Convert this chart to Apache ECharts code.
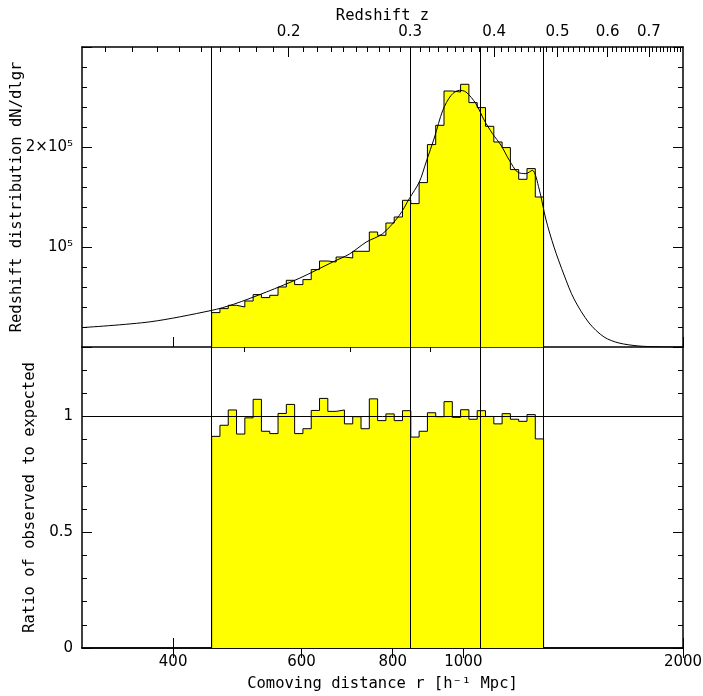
<!DOCTYPE html>
<html><head><meta charset="utf-8">
<script src="https://cdn.jsdelivr.net/npm/echarts@6/dist/echarts.min.js"></script>
<style>html,body{margin:0;padding:0;background:#fff}#c{width:703px;height:696px}</style>
</head><body><div id="c"></div>
<script>
// ---------------- data ----------------
const distanceRange = [300, 2000];                 // h^-1 Mpc, log axis
const distanceTickLabels = [400, 600, 800, 1000, 2000];
const distanceMinorTicks = [500, 700, 900];
const redshiftTickLabels = [0.2, 0.3, 0.4, 0.5, 0.6, 0.7];
const redshiftMinorStep = 0.01;
const histFirstEdge = 451.7;                       // h^-1 Mpc
const histLastEdge = 1288;
const histBinCount = 40;
const observedCounts = [34.4,38.4,41.7,40.0,46.0,52.4,49.4,51.7,60.0,66.7,
  62.4,67.4,77.4,86.0,85.0,90.0,89.0,95.7,95.7,115.0,
  111.7,124.0,130.0,146.7,143.4,164.4,202.4,221.7,256.0,255.0,
  262.7,244.4,239.4,220.7,205.0,199.4,177.4,167.7,178.4,150.0].map(v => v * 1000);
const ratioObsExp = [0.914,0.962,1.028,0.924,0.994,1.074,0.936,0.926,1.013,1.052,
  0.926,0.947,1.026,1.078,1.022,1.028,0.968,0.999,0.947,1.076,
  0.982,1.011,0.982,1.025,0.911,0.936,1.016,0.999,1.064,0.996,
  1.029,0.988,1.025,1.000,0.968,1.012,0.988,0.979,1.008,0.903];
const modelDistance = [300,372,451,484,537,597,662,698,736,775,817,843,870,889,913,937,962,987,1008,
  1040,1068,1096,1126,1156,1186,1218,1243,1270,1297,1331,1374,1418,1487,1559,1634,1740,1854,2000];
const modelCounts = [19.4,25.2,36.5,42.7,55,69,85,93,105,113.3,131.7,148.4,165,185,210,236.7,251.7,256.7,255,
  243.4,226.7,213.4,201.7,186.7,175,173.4,176.7,158,128,100,72,48,24,10,4,1,0.2,0].map(v => v * 1000);
const sampleCuts = [451.7, 846, 1053, 1288];      // h^-1 Mpc
const yTopMax = 3e5, yTopStep = 1e5;
const ratioMax = 1.3, ratioLabels = [0, 0.5, 1];

// --------------- helpers ---------------
const lg = Math.log10;
const OMEGA_M = 0.25, HUBBLE_DIST = 2997.9;
function comovingDistance(z) {          // flat LCDM, h^-1 Mpc (axis tick placement)
  const n = 400, h = z / n; let s = 0;
  for (let i = 0; i <= n; i++) {
    const zz = i * h, f = 1 / Math.sqrt(OMEGA_M * Math.pow(1 + zz, 3) + 1 - OMEGA_M);
    s += f * (i === 0 || i === n ? 1 : (i % 2 ? 4 : 2));
  }
  return HUBBLE_DIST * s * h / 3;
}
const zMajorPos = redshiftTickLabels.map(z => lg(comovingDistance(z)));
const zMinorPos = [];
for (let k = 11; k <= 100; k++) { if (k % 10) zMinorPos.push(lg(comovingDistance(k * redshiftMinorStep))); }

const edges = [];
for (let i = 0; i <= histBinCount; i++) edges.push(Math.pow(10, lg(histFirstEdge) + i * (lg(histLastEdge) - lg(histFirstEdge)) / histBinCount));
function stepData(vals) {
  const d = [[edges[0], 0]];
  vals.forEach((v, i) => d.push([edges[i], v]));
  d.push([edges[vals.length], vals[vals.length - 1]]);
  d.push([edges[vals.length], 0]);
  return d;
}

const FONT = 'DejaVu Sans';
const TITLEFONT = 'DejaVu Sans Mono';
const TITLESIZE = 15.5;
const lineS = { show: true, lineStyle: { color: '#000', width: 1.5 } };
const lgMin = lg(distanceRange[0]), lgMax = lg(distanceRange[1]);

function tickAxis(grid, pos, major, minorVals, opts) {
  return Object.assign({
    gridIndex: grid, type: 'value', position: pos, min: lgMin, max: lgMax,
    axisLine: major ? lineS : { show: false },
    axisTick: { show: true, inside: true, length: major ? 10 : 5, customValues: minorVals, lineStyle: { color: '#000', width: 1 } },
    axisLabel: { show: false }, splitLine: { show: false }
  }, opts || {});
}

const xAxes = [
  // grid 0
  { gridIndex: 0, type: 'log', min: distanceRange[0], max: distanceRange[1], show: false, logBase: 10 },
  tickAxis(0, 'bottom', true, distanceTickLabels.map(lg)),
  tickAxis(0, 'bottom', false, distanceMinorTicks.map(lg)),
  tickAxis(0, 'top', true, zMajorPos, {
    axisLabel: { show: true, customValues: zMajorPos, margin: 7, fontFamily: FONT, fontSize: 15, color: '#000',
      formatter: v => { let b = 0; zMajorPos.forEach((p, i) => { if (Math.abs(p - v) < Math.abs(zMajorPos[b] - v)) b = i; }); return String(redshiftTickLabels[b]); } },
    name: 'Redshift z', nameLocation: 'middle', nameGap: 23,
    nameTextStyle: { fontFamily: TITLEFONT, fontSize: TITLESIZE, color: '#000' }
  }),
  tickAxis(0, 'top', false, zMinorPos),
  // grid 1
  { gridIndex: 1, type: 'log', min: distanceRange[0], max: distanceRange[1], show: false, logBase: 10 },
  tickAxis(1, 'bottom', true, distanceTickLabels.map(lg), {
    axisLabel: { show: true, customValues: distanceTickLabels.map(lg), margin: 7, fontFamily: FONT, fontSize: 15, color: '#000',
      formatter: v => String(Math.round(Math.pow(10, v))) },
    name: 'Comoving distance r [h⁻¹ Mpc]', nameLocation: 'middle', nameGap: 28,
    nameTextStyle: { fontFamily: TITLEFONT, fontSize: TITLESIZE, color: '#000' }
  }),
  tickAxis(1, 'bottom', false, distanceMinorTicks.map(lg)),
  tickAxis(1, 'top', true, distanceTickLabels.map(lg)),
  tickAxis(1, 'top', false, distanceMinorTicks.map(lg))
];

function topY(pos, withLabels) {
  return {
    gridIndex: 0, type: 'value', position: pos, min: 0, max: yTopMax, interval: yTopStep,
    axisLine: lineS,
    axisTick: { show: true, inside: true, length: 10, lineStyle: { color: '#000' } },
    minorTick: { show: true, splitNumber: 5, length: 5, lineStyle: { color: '#000' } },
    splitLine: { show: false }, minorSplitLine: { show: false },
    axisLabel: withLabels ? { show: true, margin: 9, fontFamily: FONT, fontSize: 15, color: '#000',
      formatter: v => v === 1e5 ? '10⁵' : (v === 2e5 ? '2×10⁵' : '') } : { show: false },
    name: withLabels ? 'Redshift distribution dN/dlgr' : '', nameLocation: 'middle', nameGap: 57,
    nameMoveOverlap: false,
    nameTextStyle: { fontFamily: TITLEFONT, fontSize: TITLESIZE, color: '#000' }
  };
}
function botY(pos, major, withLabels) {
  return {
    gridIndex: 1, type: 'value', position: pos, min: 0, max: ratioMax, interval: 0.1,
    axisLine: major ? lineS : { show: false },
    axisTick: { show: true, inside: true, length: major ? 10 : 5, customValues: major ? ratioLabels : undefined, lineStyle: { color: '#000' } },
    splitLine: { show: false },
    axisLabel: withLabels ? { show: true, customValues: ratioLabels, margin: 9, fontFamily: FONT, fontSize: 15, color: '#000',
      formatter: v => String(v) } : { show: false },
    name: withLabels ? 'Ratio of observed to expected' : '', nameLocation: 'middle', nameGap: 43,
    nameTextStyle: { fontFamily: TITLEFONT, fontSize: TITLESIZE, color: '#000' }
  };
}
const yAxes = [topY('left', true), topY('right', false),
  botY('left', true, true), botY('left', false, false), botY('right', true, false), botY('right', false, false)];

const vLines = {
  silent: true, symbol: ['none', 'none'], animation: false, label: { show: false },
  lineStyle: { color: '#000', width: 1, type: 'solid' },
  data: sampleCuts.map(v => ({ xAxis: v }))
};

const chart = echarts.init(document.getElementById('c'), null, { renderer: 'canvas' });
chart.setOption({
  animation: false,
  backgroundColor: '#fff',
  grid: [
    { left: 82, right: 20, top: 47, height: 300, containLabel: false, outerBoundsMode: 'none' },
    { left: 82, right: 20, top: 347, height: 301, containLabel: false, outerBoundsMode: 'none' }
  ],
  xAxis: xAxes,
  yAxis: yAxes,
  series: [
    { type: 'line', xAxisIndex: 0, yAxisIndex: 0, step: 'end', data: stepData(observedCounts),
      showSymbol: false, lineStyle: { color: '#000', width: 1 }, areaStyle: { color: '#ffff00', opacity: 1 },
      markLine: vLines, z: 2 },
    { type: 'line', xAxisIndex: 0, yAxisIndex: 0, data: modelDistance.map((r, i) => [r, modelCounts[i]]),
      smooth: 0.3, showSymbol: false, lineStyle: { color: '#000', width: 1 }, z: 4 },
    { type: 'line', xAxisIndex: 5, yAxisIndex: 2, step: 'end', data: stepData(ratioObsExp),
      showSymbol: false, lineStyle: { color: '#000', width: 1 }, areaStyle: { color: '#ffff00', opacity: 1 },
      markLine: Object.assign({}, vLines, { data: sampleCuts.map(v => ({ xAxis: v })).concat([{ yAxis: 1 }]) }), z: 2 }
  ]
});
</script></body></html>
